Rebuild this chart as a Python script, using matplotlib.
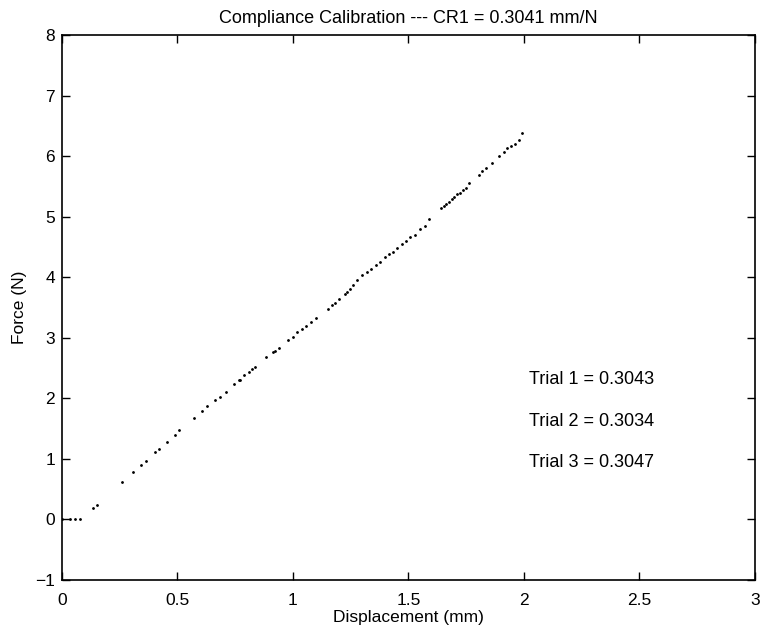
import matplotlib
matplotlib.use("Agg")
import matplotlib.pyplot as plt

plt.rcParams['font.family'] = ['Liberation Sans', 'DejaVu Sans']

# Displacement (mm) and Force (N)
disp = [0.0, 0.035, 0.056, 0.078, 0.136, 0.153, 0.261, 0.306, 0.342, 0.362,
        0.401, 0.418, 0.453, 0.489, 0.506, 0.570, 0.607, 0.628, 0.664, 0.685,
        0.709, 0.746, 0.765, 0.771, 0.789, 0.808, 0.824, 0.837, 0.883, 0.912,
        0.923, 0.938, 0.980, 1.001, 1.017, 1.038, 1.058, 1.078, 1.100, 1.150,
        1.169, 1.183, 1.200, 1.224, 1.232, 1.245, 1.261, 1.278, 1.300, 1.319,
        1.338, 1.358, 1.377, 1.397, 1.416, 1.432, 1.452, 1.472, 1.489, 1.506,
        1.527, 1.550, 1.571, 1.590, 1.639, 1.652, 1.664, 1.675, 1.687, 1.698,
        1.710, 1.724, 1.737, 1.749, 1.763, 1.805, 1.820, 1.837, 1.860, 1.892,
        1.912, 1.928, 1.945, 1.960, 1.977, 1.993]
force = [0.0, 0.0, 0.0, 0.0, 0.19, 0.24, 0.62, 0.78, 0.90, 0.97,
         1.11, 1.17, 1.28, 1.40, 1.47, 1.68, 1.80, 1.87, 1.97, 2.03,
         2.11, 2.24, 2.30, 2.31, 2.38, 2.44, 2.48, 2.52, 2.68, 2.76,
         2.79, 2.84, 2.97, 3.02, 3.10, 3.15, 3.20, 3.26, 3.33, 3.48,
         3.54, 3.58, 3.65, 3.72, 3.76, 3.80, 3.88, 3.96, 4.04, 4.09,
         4.14, 4.20, 4.25, 4.33, 4.39, 4.42, 4.48, 4.55, 4.60, 4.67,
         4.70, 4.79, 4.84, 4.97, 5.14, 5.17, 5.21, 5.25, 5.29, 5.33,
         5.37, 5.40, 5.44, 5.48, 5.55, 5.69, 5.75, 5.81, 5.89, 6.01,
         6.07, 6.13, 6.17, 6.21, 6.27, 6.38]

trial_labels = ["Trial 1 = 0.3043", "Trial 2 = 0.3034", "Trial 3 = 0.3047"]
trial_y = [2.31, 1.62, 0.94]

xticks = [0, 0.5, 1, 1.5, 2, 2.5, 3]
xticklabels = ["0", "0.5", "1", "1.5", "2", "2.5", "3"]
yticks = [-1, 0, 1, 2, 3, 4, 5, 6, 7, 8]

fig = plt.figure(figsize=(7.68, 6.28), dpi=100)
ax = fig.add_axes([0.0807, 0.0764, 0.9023, 0.8676])
ax.plot(disp, force, linestyle='none', marker='.', markersize=2, color='black')

ax.set_xlim(0, 3)
ax.set_ylim(-1, 8)
ax.set_xticks(xticks)
ax.set_xticklabels(xticklabels)
ax.set_yticks(yticks)
ax.tick_params(direction='in', length=6, width=1, top=True, right=True, labelsize=12.5)
ax.tick_params(axis='x', pad=9)
ax.tick_params(axis='y', pad=5)
for s in ax.spines.values():
    s.set_linewidth(1.2)

ax.set_xlabel("Displacement (mm)", fontsize=12.5, labelpad=2)
ax.set_ylabel("Force (N)", fontsize=12.5, labelpad=6)
ax.set_title("Compliance Calibration --- CR1 = 0.3041 mm/N", fontsize=13, pad=9)

for lab, yv in zip(trial_labels, trial_y):
    ax.text(2.02, yv, lab, fontsize=13, va='center', ha='left')

fig.savefig("out.png", dpi=100)
